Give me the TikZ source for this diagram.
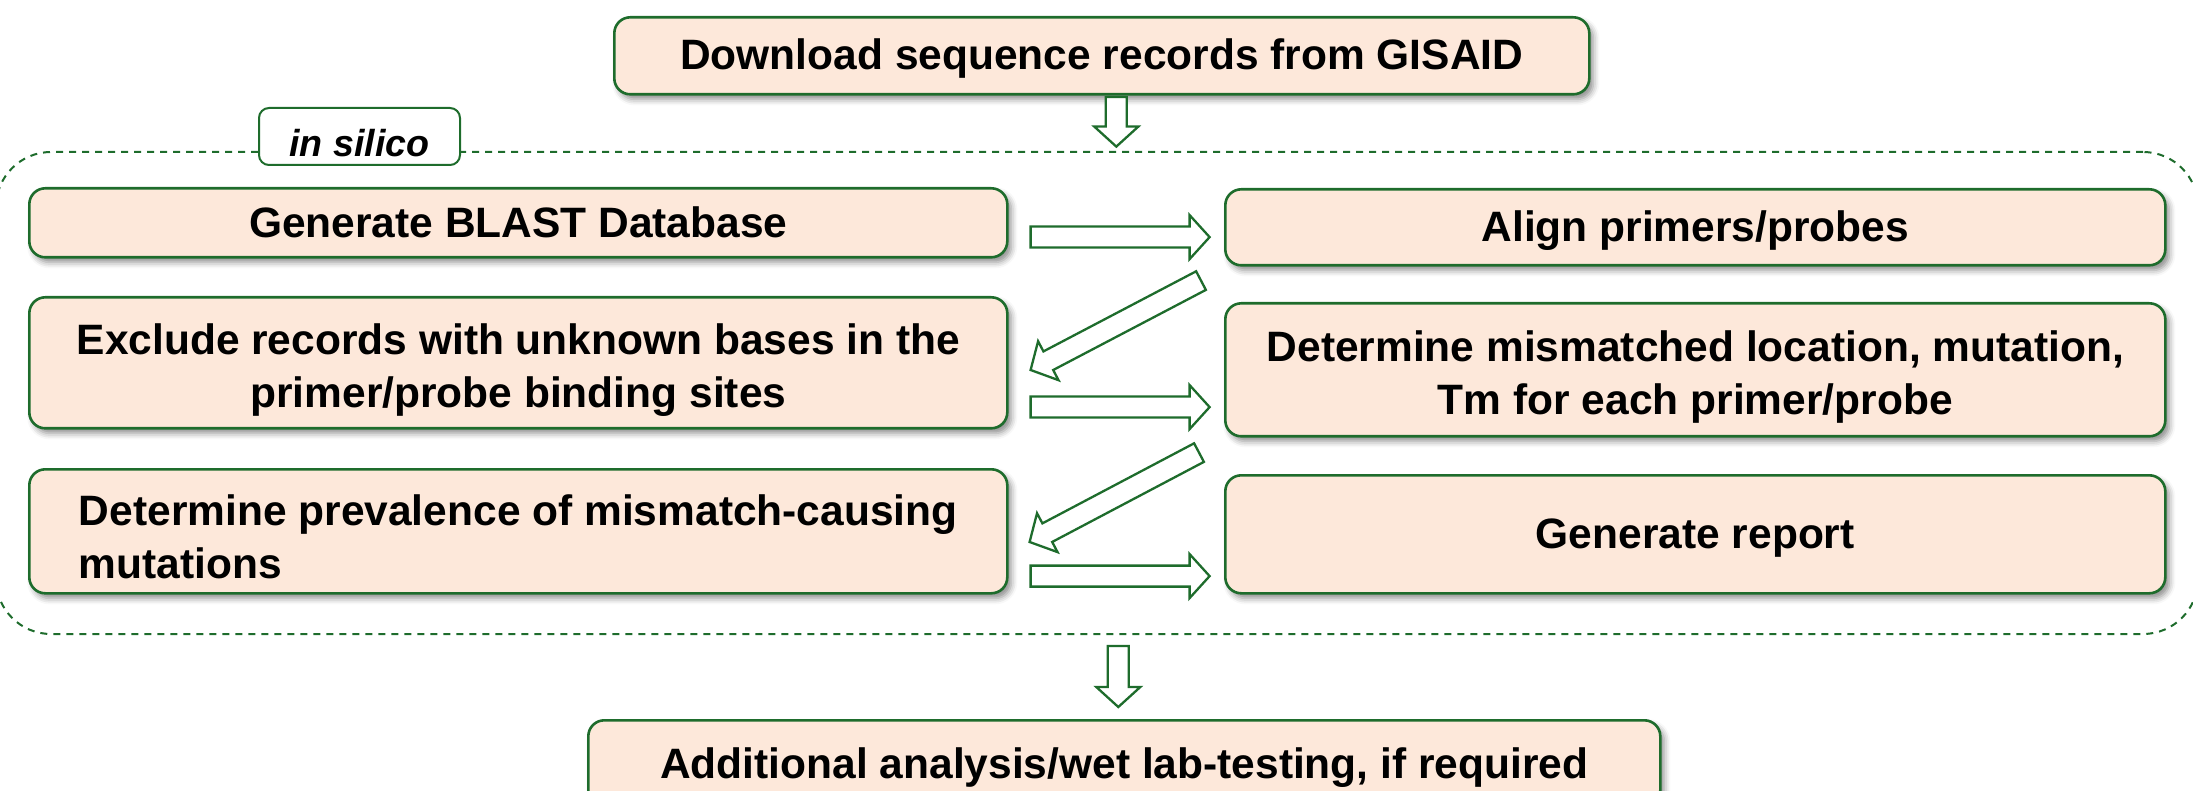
\documentclass[tikz,border=0pt]{standalone}
\usepackage{fontspec}
\setmainfont{Liberation Sans}
\usetikzlibrary{calc,shadows.blur}
\definecolor{bgreen}{RGB}{30,108,44}
\definecolor{peach}{RGB}{253,232,218}
\tikzset{
  box/.style={draw=bgreen, line width=2.6pt, fill=peach, rounded corners=16pt,
    inner sep=0pt, anchor=north west,
    font=\fontsize{42.5}{53}\selectfont\bfseries,
    blur shadow={shadow xshift=4pt, shadow yshift=-5pt, shadow blur radius=6pt, shadow opacity=45}},
  barrowstyle/.style={draw=bgreen, line width=2.3pt, fill=white, line join=miter},
  container/.style={draw=bgreen, line width=2pt, dash pattern=on 7pt off 6pt,
    rounded corners=55pt, inner sep=0pt, anchor=north west},
  tagbox/.style={draw=bgreen, line width=2pt, fill=white, rounded corners=10pt,
    inner sep=0pt, anchor=north west,
    font=\fontsize{37.6}{44}\selectfont\bfseries\itshape}
}
% box text: [alignment]{downward shift}{lines}
\newcommand\bt[3][c]{\raisebox{-#2}[\height][\depth]{\begin{tabular}{@{}#1@{}}#3\end{tabular}}}
% block arrow from #1 to #2 (named coordinates)
\newcommand\blockarr[2]{%
  \path (#1) coordinate (ba-s) (#2) coordinate (ba-e);
  \coordinate (ba-h) at ($(ba-e)!20pt!(ba-s)$);
  \draw[barrowstyle]
    ($(ba-s)!10.5pt!90:(ba-e)$) --
    ($(ba-h)!10.5pt!-90:(ba-s)$) --
    ($(ba-h)!22pt!-90:(ba-s)$) --
    (ba-e) --
    ($(ba-h)!22pt!90:(ba-s)$) --
    ($(ba-h)!10.5pt!90:(ba-s)$) --
    ($(ba-s)!10.5pt!-90:(ba-e)$) -- cycle;
}
\begin{document}
\begin{tikzpicture}[x=1pt,y=-1pt]
\useasboundingbox (0,0) rectangle (2193,791);

% dashed container and its tag
\node[container, minimum width=2202pt, minimum height=482pt] (C) at (-5,151) {};
\node[tagbox, minimum width=201pt, minimum height=57pt] (tag) at (258,107)
  {\raisebox{-7pt}[\height][\depth]{in silico}};

% boxes
\node[box, minimum width=975pt, minimum height=77pt] (T) at (613,16)
  {\bt{3pt}{Download sequence records from GISAID}};
\node[box, minimum width=978pt, minimum height=69pt] (L1) at (28,187)
  {\bt{4pt}{Generate BLAST Database}};
\node[box, minimum width=978pt, minimum height=131pt] (L2) at (28,296)
  {\bt{8pt}{Exclude records with unknown bases in the\\primer/probe binding sites}};
\node[box, minimum width=978pt, minimum height=124pt] (L3) at (28,468)
  {\bt[l]{10pt}{Determine prevalence of mismatch-causing\\mutations}};
\node[box, minimum width=940pt, minimum height=76pt] (R1) at (1224,188)
  {\bt{4pt}{Align primers/probes}};
\node[box, minimum width=940pt, minimum height=133pt] (R2) at (1224,302)
  {\bt{8pt}{Determine mismatched location, mutation,\\Tm for each primer/probe}};
\node[box, minimum width=940pt, minimum height=118pt] (R3) at (1224,474)
  {\bt{4pt}{Generate report}};
\node[box, minimum width=1072pt, minimum height=86pt] (B) at (587,719)
  {\bt{5pt}{Additional analysis/wet lab-testing, if required}};

% arrow end points
\coordinate (a1s) at ($(T.south)+(14.5,1.5)$);
\coordinate (a1e) at ($(T.south)+(14.5,51)$);
\coordinate (a2s) at ($(B.north)+(-6,-73)$);
\coordinate (a2e) at ($(B.north)+(-6,-12)$);
\coordinate (h1s) at ($(L1.south east)+(22,-21.5)$);
\coordinate (h1e) at ($(h1s)+(179,0)$);
\coordinate (h2s) at ($(L2.south east)+(22,-22.5)$);
\coordinate (h2e) at ($(h2s)+(179,0)$);
\coordinate (h3s) at ($(L3.south east)+(22,-18.5)$);
\coordinate (h3e) at ($(h3s)+(179,0)$);
\coordinate (d1s) at ($(R1.south west)+(-23,14)$);
\coordinate (d1e) at ($(L2.north east)+(22,74)$);
\coordinate (d2s) at ($(R2.south west)+(-25,15)$);
\coordinate (d2e) at ($(L3.north east)+(21,74)$);

\blockarr{a1s}{a1e}
\blockarr{a2s}{a2e}
\blockarr{h1s}{h1e}
\blockarr{h2s}{h2e}
\blockarr{h3s}{h3e}
\blockarr{d1s}{d1e}
\blockarr{d2s}{d2e}
\end{tikzpicture}
\end{document}
